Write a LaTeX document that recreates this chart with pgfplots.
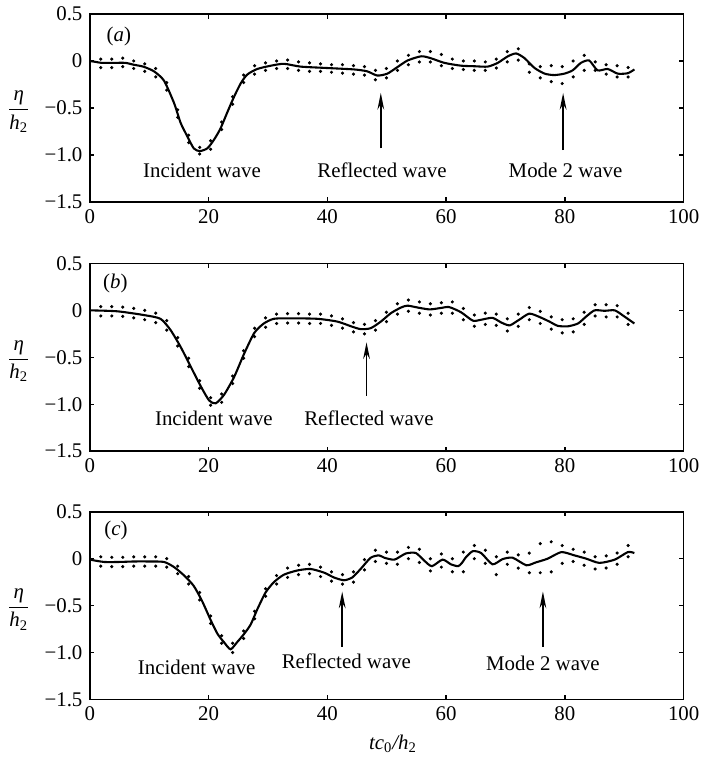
\documentclass[border=0pt]{standalone}
\usepackage{fontspec}
\setmainfont{Liberation Serif}
\usepackage{amsmath}
\usepackage{pgfplots}
\pgfplotsset{compat=1.18}
\usetikzlibrary{arrows.meta}
\tikzset{arr/.style={-{Stealth[length=8pt,width=3.2pt]}, line width=0.9pt}}
\pgfplotsset{panel/.style={
  width=284.6pt, height=90pt, scale only axis,
  xmin=0, xmax=100, ymin=-1.5, ymax=0.5,
  xtick={0,20,40,60,80,100}, xticklabels={0,20,40,60,80,100},
  ytick={-1.5,-1,-0.5,0,0.5}, yticklabels={−1.5,−1.0,−0.5,0,0.5},
  tick align=inside, major tick length=2.2pt,
  axis line style={line width=0.75pt},
  tick style={line width=0.6pt, black},
  clip=false,
  every tick label/.append style={font=\normalsize},
},
solidc/.style={black, line width=1pt, smooth, tension=0.4, mark=none},
dotc/.style={only marks, mark=*, mark size=0.55pt, black},
}
\newcommand{\etalabel}{\node at ([xshift=-34pt]rel axis cs:0,0.48) {$\dfrac{\mbox{\itshape η}}{\mbox{\itshape h}_{\mbox{\scriptsize 2}}}$};}
\begin{document}
\begin{tikzpicture}
% ---------------- (a)
\begin{axis}[panel]
\addplot[dotc] coordinates {(1.85,0.02)(3.7,0.02)(5.55,0.03)(7.4,0.0)(9.25,-0.03)(11.1,-0.08)(12.95,-0.23)(14.8,-0.52)(16.65,-0.79)(18.5,-0.92)(20.35,-0.85)(22.2,-0.65)(24.05,-0.38)(25.9,-0.15)(27.75,-0.05)(29.6,-0.02)(31.45,0.0)(33.3,0.01)(35.15,-0.01)(37.0,-0.02)(38.85,-0.03)(40.7,-0.04)(42.55,-0.04)(44.4,-0.05)(46.25,-0.06)(48.1,-0.10)(49.95,-0.08)(51.8,0.0)(53.65,0.06)(55.5,0.10)(57.35,0.10)(59.2,0.07)(61.05,0.02)(62.9,0.0)(64.75,0.0)(66.6,-0.01)(68.45,0.02)(70.3,0.10)(72.15,0.13)(74.0,-0.03)(75.85,-0.06)(77.7,-0.05)(79.55,-0.06)(81.4,0.0)(83.25,0.06)(85.1,-0.01)(86.95,-0.04)(88.8,-0.05)(90.65,-0.07)};
\addplot[dotc] coordinates {(1.85,-0.07)(3.7,-0.07)(5.55,-0.06)(7.4,-0.08)(9.25,-0.11)(11.1,-0.17)(12.95,-0.31)(14.8,-0.60)(16.65,-0.87)(18.5,-0.99)(20.35,-0.94)(22.2,-0.73)(24.05,-0.46)(25.9,-0.23)(27.75,-0.14)(29.6,-0.10)(31.45,-0.08)(33.3,-0.08)(35.15,-0.10)(37.0,-0.11)(38.85,-0.11)(40.7,-0.12)(42.55,-0.13)(44.4,-0.14)(46.25,-0.15)(48.1,-0.20)(49.95,-0.18)(51.8,-0.10)(53.65,-0.04)(55.5,-0.01)(57.35,-0.01)(59.2,-0.05)(61.05,-0.08)(62.9,-0.09)(64.75,-0.10)(66.6,-0.10)(68.45,-0.075)(70.3,-0.01)(72.15,0.01)(74.0,-0.12)(75.85,-0.18)(77.7,-0.22)(79.55,-0.24)(81.4,-0.17)(83.25,-0.10)(85.1,-0.10)(86.95,-0.14)(88.8,-0.17)(90.65,-0.17)};
\addplot[solidc] coordinates {(0,0.0)(1,-0.01)(2,-0.02)(4,-0.02)(6,-0.02)(7.4,-0.04)(9,-0.06)(10.8,-0.11)(12.5,-0.21)(14.2,-0.45)(15.3,-0.66)(16.4,-0.80)(17.5,-0.93)(18.5,-0.96)(19.8,-0.93)(20.9,-0.84)(22.0,-0.72)(23.2,-0.54)(24.3,-0.38)(25.4,-0.24)(26.5,-0.145)(28.2,-0.085)(30.5,-0.05)(32.7,-0.03)(35.5,-0.06)(40,-0.075)(44.5,-0.09)(46.7,-0.11)(48.4,-0.155)(50.1,-0.135)(51.8,-0.065)(53.5,0.005)(55.8,0.05)(57.4,0.03)(59.7,-0.02)(62.5,-0.05)(64.8,-0.056)(67.0,-0.06)(68.7,-0.02)(70.4,0.05)(71.8,0.08)(73.2,0.03)(74.9,-0.075)(76.6,-0.135)(78.2,-0.15)(79.9,-0.135)(81.3,-0.1)(82.7,-0.02)(84.1,0.005)(85.5,-0.1)(87.2,-0.085)(88.9,-0.135)(90.6,-0.13)(91.7,-0.09)};
\node at (axis cs:4.9,0.265) {(\textit{a})};
\node at (axis cs:18.9,-1.16) {Incident wave};
\node at (axis cs:49.2,-1.16) {Reflected wave};
\node at (axis cs:80.1,-1.16) {Mode 2 wave};
\draw[arr] (axis cs:49.0,-0.93) -- (axis cs:49.0,-0.34);
\draw[arr] (axis cs:79.7,-0.95) -- (axis cs:79.7,-0.34);
\etalabel
\end{axis}
% ---------------- (b)
\begin{axis}[panel, at={(0,-119.5pt)}]
\addplot[dotc] coordinates {(1.85,0.04)(3.7,0.04)(5.55,0.035)(7.4,0.02)(9.25,0.0)(11.1,-0.03)(12.95,-0.11)(14.8,-0.29)(16.65,-0.51)(18.5,-0.75)(20.35,-0.93)(22.2,-0.89)(24.05,-0.70)(25.9,-0.43)(27.75,-0.19)(29.6,-0.08)(31.45,-0.04)(33.3,-0.035)(35.15,-0.035)(37.0,-0.04)(38.85,-0.04)(40.7,-0.06)(42.55,-0.09)(44.4,-0.13)(46.25,-0.15)(48.1,-0.11)(49.95,-0.02)(51.8,0.07)(53.65,0.11)(55.5,0.09)(57.35,0.07)(59.2,0.08)(61.05,0.09)(62.9,0.02)(64.75,-0.05)(66.6,-0.03)(68.45,-0.04)(70.3,-0.09)(72.15,-0.04)(74.0,0.03)(75.85,-0.01)(77.7,-0.07)(79.55,-0.10)(81.4,-0.09)(83.25,-0.02)(85.1,0.06)(86.95,0.06)(88.8,0.05)(90.65,-0.03)};
\addplot[dotc] coordinates {(1.85,-0.06)(3.7,-0.06)(5.55,-0.065)(7.4,-0.08)(9.25,-0.10)(11.1,-0.13)(12.95,-0.21)(14.8,-0.38)(16.65,-0.60)(18.5,-0.83)(20.35,-1.01)(22.2,-0.98)(24.05,-0.78)(25.9,-0.51)(27.75,-0.28)(29.6,-0.18)(31.45,-0.14)(33.3,-0.135)(35.15,-0.135)(37.0,-0.14)(38.85,-0.14)(40.7,-0.16)(42.55,-0.19)(44.4,-0.23)(46.25,-0.25)(48.1,-0.21)(49.95,-0.12)(51.8,-0.04)(53.65,-0.01)(55.5,-0.03)(57.35,-0.05)(59.2,-0.03)(61.05,-0.03)(62.9,-0.10)(64.75,-0.17)(66.6,-0.15)(68.45,-0.16)(70.3,-0.22)(72.15,-0.17)(74.0,-0.10)(75.85,-0.14)(77.7,-0.20)(79.55,-0.24)(81.4,-0.23)(83.25,-0.15)(85.1,-0.06)(86.95,-0.07)(88.8,-0.07)(90.65,-0.15)};
\addplot[solidc] coordinates {(0,0.0)(4.6,-0.01)(9.1,-0.05)(11.9,-0.09)(13.6,-0.21)(15.3,-0.39)(17.0,-0.60)(18.7,-0.81)(20.1,-0.96)(21.2,-0.99)(22.6,-0.90)(24.3,-0.71)(26.0,-0.46)(27.7,-0.24)(29.3,-0.14)(31.0,-0.09)(33.8,-0.085)(38.3,-0.09)(41.7,-0.12)(44.0,-0.17)(45.6,-0.20)(47.3,-0.19)(49.0,-0.12)(50.7,-0.03)(52.4,0.03)(53.5,0.05)(55.2,0.03)(57.2,0.01)(59.1,0.025)(60.5,0.035)(62.5,-0.02)(64.5,-0.11)(65.9,-0.10)(67.8,-0.08)(69.3,-0.13)(70.7,-0.16)(72.3,-0.10)(74.0,-0.035)(75.7,-0.07)(77.4,-0.12)(78.8,-0.165)(80.5,-0.17)(82.2,-0.14)(83.6,-0.065)(85.0,0.0)(86.7,-0.005)(88.4,0.0)(90.0,-0.065)(91.7,-0.14)};
\node at (axis cs:4.3,0.29) {(\textit{b})};
\node at (axis cs:20.9,-1.15) {Incident wave};
\node at (axis cs:47.0,-1.15) {Reflected wave};
\draw[arr] (axis cs:46.6,-0.91) -- (axis cs:46.6,-0.34);
\etalabel
\end{axis}
% ---------------- (c)
\begin{axis}[panel, at={(0,-238.5pt)},
  xlabel={\itshape tc{\upshape\textsubscript{0}}/h{\upshape\textsubscript{2}}},
  xlabel style={xshift=3pt}]
\addplot[dotc] coordinates {(1.85,0.02)(3.7,0.015)(5.55,0.015)(7.4,0.02)(9.25,0.02)(11.1,0.02)(12.95,0.0)(14.8,-0.08)(16.65,-0.19)(18.5,-0.36)(20.35,-0.61)(22.2,-0.82)(24.05,-0.90)(25.9,-0.77)(27.75,-0.56)(29.6,-0.32)(31.45,-0.18)(33.3,-0.10)(35.15,-0.07)(37.0,-0.06)(38.85,-0.09)(40.7,-0.14)(42.55,-0.17)(44.4,-0.14)(46.25,-0.01)(48.1,0.09)(49.95,0.07)(51.8,0.07)(53.65,0.12)(55.5,0.10)(57.35,0.0)(59.2,0.05)(61.05,0.0)(62.9,0.07)(64.75,0.14)(66.6,0.09)(68.45,0.02)(70.3,0.07)(72.15,0.04)(74.0,0.06)(75.85,0.16)(77.7,0.18)(79.55,0.14)(81.4,0.10)(83.25,0.07)(85.1,0.02)(86.95,0.03)(88.8,0.06)(90.65,0.14)};
\addplot[dotc] coordinates {(1.85,-0.08)(3.7,-0.085)(5.55,-0.085)(7.4,-0.08)(9.25,-0.08)(11.1,-0.08)(12.95,-0.09)(14.8,-0.16)(16.65,-0.27)(18.5,-0.44)(20.35,-0.69)(22.2,-0.90)(24.05,-1.00)(25.9,-0.85)(27.75,-0.64)(29.6,-0.40)(31.45,-0.27)(33.3,-0.20)(35.15,-0.17)(37.0,-0.16)(38.85,-0.19)(40.7,-0.24)(42.55,-0.27)(44.4,-0.25)(46.25,-0.12)(48.1,-0.03)(49.95,-0.05)(51.8,-0.06)(53.65,0.0)(55.5,-0.04)(57.35,-0.13)(59.2,-0.09)(61.05,-0.14)(62.9,-0.14)(64.75,0.0)(66.6,-0.05)(68.45,-0.17)(70.3,-0.06)(72.15,-0.10)(74.0,-0.15)(75.85,-0.15)(77.7,-0.14)(79.55,-0.05)(81.4,-0.03)(83.25,-0.07)(85.1,-0.11)(86.95,-0.10)(88.8,-0.06)(90.65,0.02)};
\addplot[solidc] coordinates {(0,-0.01)(2.4,-0.035)(5,-0.035)(7.4,-0.03)(10,-0.03)(12.5,-0.035)(14.2,-0.09)(15.9,-0.18)(17.5,-0.29)(18.9,-0.45)(20.4,-0.66)(21.5,-0.80)(22.6,-0.89)(23.7,-0.965)(24.8,-0.89)(26.0,-0.80)(27.1,-0.70)(28.2,-0.54)(29.6,-0.36)(31.0,-0.25)(32.7,-0.17)(35.0,-0.125)(37.2,-0.11)(39.5,-0.15)(41.1,-0.20)(42.8,-0.23)(44.2,-0.20)(45.6,-0.11)(47.3,0.01)(48.7,0.035)(49.6,0.01)(51.3,-0.01)(53.2,0.055)(54.9,0.06)(56.3,-0.02)(57.6,-0.08)(59.4,-0.01)(60.8,-0.06)(62.0,-0.08)(62.6,-0.05)(63.4,0.02)(64.5,0.08)(65.9,0.06)(67.8,-0.06)(69.5,-0.005)(71.2,0.01)(73.5,-0.07)(75.1,-0.04)(77.1,0.0)(79.4,0.07)(81.6,0.035)(83.6,0.0)(85.8,-0.045)(88.4,-0.01)(90.6,0.07)(91.7,0.06)};
\node at (axis cs:4.4,0.30) {(\textit{c})};
\node at (axis cs:18.0,-1.16) {Incident wave};
\node at (axis cs:43.2,-1.09) {Reflected wave};
\node at (axis cs:76.3,-1.11) {Mode 2 wave};
\draw[arr] (axis cs:42.5,-0.94) -- (axis cs:42.5,-0.35);
\draw[arr] (axis cs:76.3,-0.94) -- (axis cs:76.3,-0.35);
\etalabel
\end{axis}
\end{tikzpicture}
\end{document}
